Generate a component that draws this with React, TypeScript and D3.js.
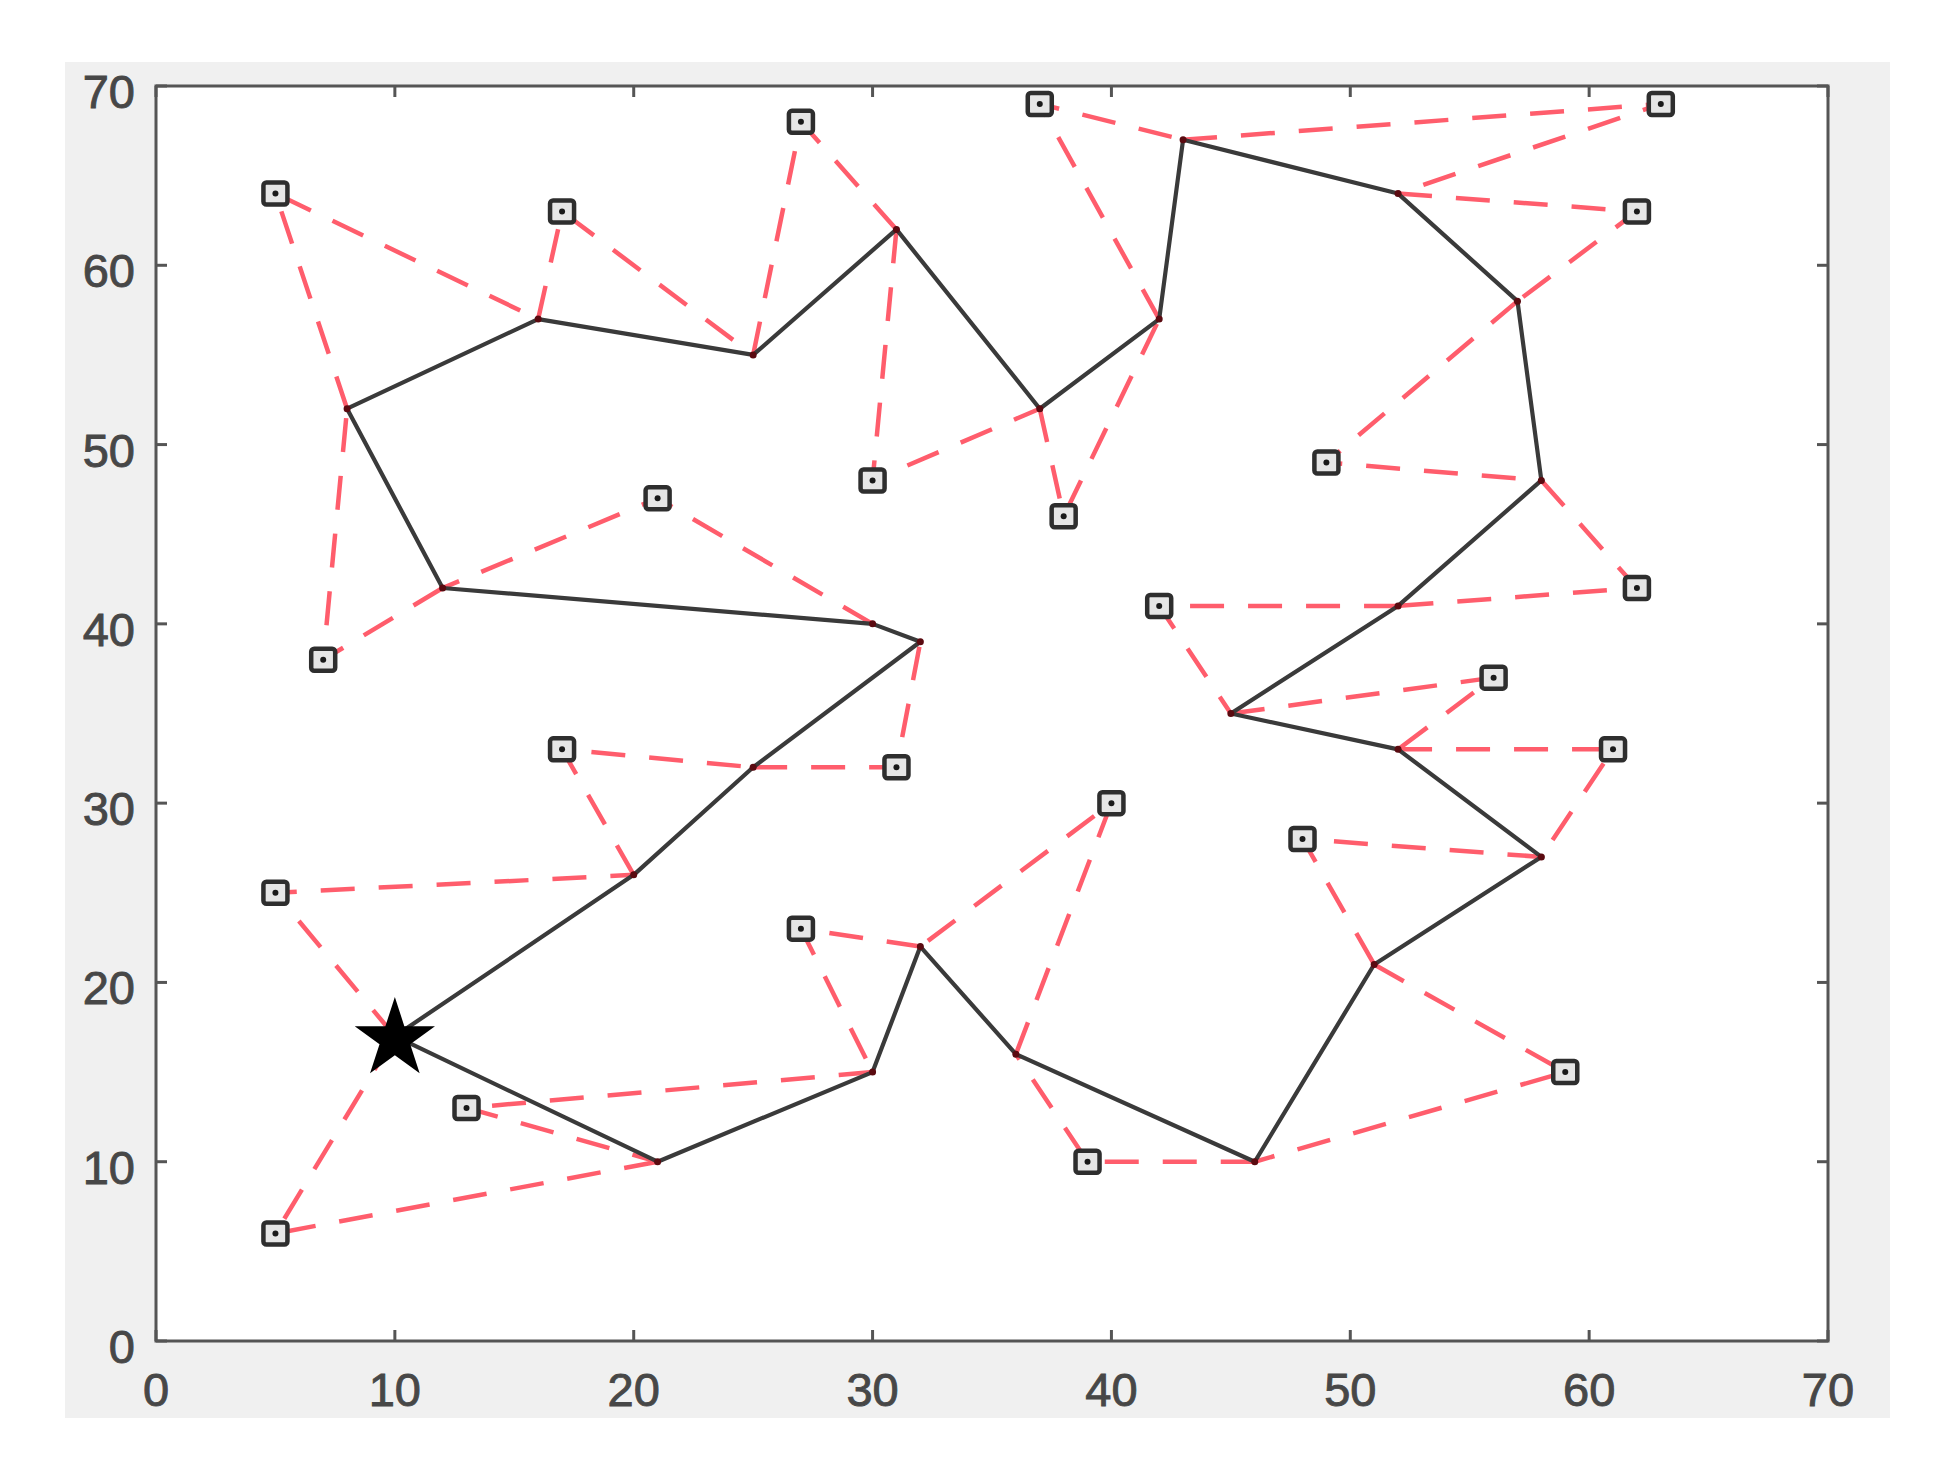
import React from 'react';
import * as d3 from 'd3';

// Truck route (closed tour, starting and ending at the depot star)
const routeX = [10, 20, 25, 32, 30, 12, 8, 16, 25, 31, 37, 42, 43, 52, 57, 58, 52, 45, 52, 58, 51, 46, 36, 32, 30, 21, 10];
const routeY = [17, 26, 32, 39, 40, 42, 52, 57, 55, 62, 52, 57, 67, 64, 58, 48, 41, 35, 33, 27, 21, 10, 16, 22, 15, 10, 17];

// Customers served by drone sorties
const customerX = [5, 17, 31, 21, 7, 5, 17, 27, 30, 38, 37, 63, 62, 49, 62, 42, 56, 61, 48, 59, 39, 40, 27, 13, 5];
const customerY = [25, 33, 32, 47, 38, 64, 63, 68, 48, 46, 69, 69, 63, 49, 42, 41, 37, 33, 28, 15, 10, 30, 23, 13, 6];
const launchIdx = [0, 1, 2, 4, 5, 6, 7, 8, 9, 10, 11, 12, 13, 14, 15, 16, 17, 18, 19, 20, 21, 22, 23, 24, 25];
const retrieveIdx = [1, 2, 3, 5, 6, 7, 8, 9, 10, 11, 12, 13, 14, 15, 16, 17, 18, 19, 20, 21, 22, 23, 24, 25, 26];

const depot = [10, 17];
const xTicks = [0, 10, 20, 30, 40, 50, 60, 70];
const yTicks = [0, 10, 20, 30, 40, 50, 60, 70];

const W = 1956;
const H = 1472;
const PL = 156, PR = 1828, PT = 86, PB = 1341;

export default function App() {
  const x = d3.scaleLinear().domain([0, 70]).range([PL, PR]);
  const y = d3.scaleLinear().domain([0, 70]).range([PB, PT]);

  const routePts: [number, number][] = routeX.map((v, i) => [x(v), y(routeY[i])]);
  const routePath = d3.line()(routePts) as string;

  const sortiePaths = customerX.map((cx, i) => {
    const a = launchIdx[i];
    const b = retrieveIdx[i];
    return d3.line()([
      [x(routeX[a]), y(routeY[a])],
      [x(cx), y(customerY[i])],
      [x(routeX[b]), y(routeY[b])],
    ]) as string;
  });

  const star = d3.symbol().type(d3.symbolStar).size(2000)() as string;
  const axisColor = '#555555';
  const tickLen = 11;
  const font = '"Liberation Sans", Arial, Helvetica, sans-serif';
  const labelColor = '#474747';

  return (
    <svg width={W} height={H} style={{ position: 'absolute', left: 0, top: 0, background: '#ffffff' }}>
      <rect x={65} y={62} width={1825} height={1356} fill="#f0f0f0" />
      <rect x={PL} y={PT} width={PR - PL} height={PB - PT} fill="#ffffff" />

      {/* drone sorties */}
      <g fill="none" stroke="#ff5d6c" strokeWidth={4.5} strokeDasharray="34 24">
        {sortiePaths.map((d, i) => (
          <path key={i} d={d} />
        ))}
      </g>

      {/* truck route */}
      <path d={routePath} fill="none" stroke="#3a3a3a" strokeWidth={4.2} strokeLinejoin="round" />
      {routePts.map((p, i) => (
        <circle key={i} cx={p[0]} cy={p[1]} r={3.5} fill="#5a0a10" />
      ))}

      {/* customers */}
      {customerX.map((cx, i) => (
        <g key={i} transform={`translate(${x(cx)},${y(customerY[i])})`}>
          <rect x={-12} y={-11} width={24} height={22} rx={3} fill="#e6e6e6" stroke="#2e2e2e" strokeWidth={4.5} />
          <circle r={3} fill="#1a1a1a" />
        </g>
      ))}

      {/* depot */}
      <path d={star} transform={`translate(${x(depot[0])},${y(depot[1]) + 3})`} fill="#000000" />

      {/* axes box */}
      <rect x={PL} y={PT} width={PR - PL} height={PB - PT} fill="none" stroke={axisColor} strokeWidth={3} />
      {xTicks.map((t) => (
        <g key={'x' + t}>
          <line x1={x(t)} x2={x(t)} y1={PB} y2={PB - tickLen} stroke={axisColor} strokeWidth={3} />
          <line x1={x(t)} x2={x(t)} y1={PT} y2={PT + tickLen} stroke={axisColor} strokeWidth={3} />
          <text x={x(t)} y={1406} textAnchor="middle" fontFamily={font} fontSize={47} fill={labelColor} stroke={labelColor} strokeWidth={0.9}>
            {t}
          </text>
        </g>
      ))}
      {yTicks.map((t) => (
        <g key={'y' + t}>
          <line x1={PL} x2={PL + tickLen} y1={y(t)} y2={y(t)} stroke={axisColor} strokeWidth={3} />
          <line x1={PR} x2={PR - tickLen} y1={y(t)} y2={y(t)} stroke={axisColor} strokeWidth={3} />
          <text x={135} y={y(t) + 22} textAnchor="end" fontFamily={font} fontSize={47} fill={labelColor} stroke={labelColor} strokeWidth={0.9}>
            {t}
          </text>
        </g>
      ))}
    </svg>
  );
}
